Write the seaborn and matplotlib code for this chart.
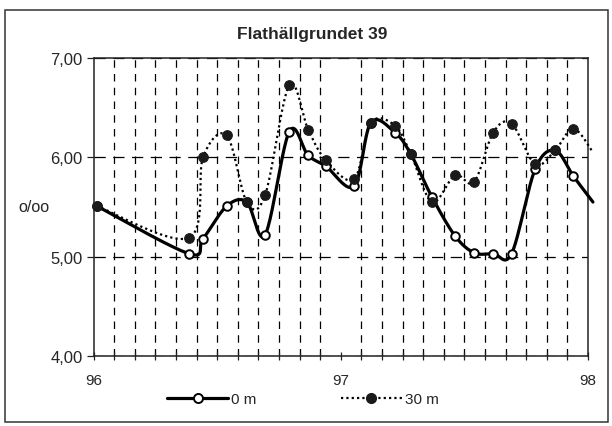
import numpy as np
import pandas as pd
import seaborn as sns
import matplotlib
matplotlib.use("Agg")
import matplotlib.pyplot as plt
from matplotlib.lines import Line2D
from matplotlib.patches import Rectangle
from matplotlib.ticker import FixedLocator, FuncFormatter

# Sampling dates (decimal year, 96 = 1996) and salinity (o/oo) at 0 m and 30 m
dates = [96.013, 96.386, 96.443, 96.539, 96.620, 96.694, 96.792, 96.868,
         96.940, 97.054, 97.122, 97.219, 97.284, 97.369, 97.462, 97.539,
         97.617, 97.691, 97.786, 97.867, 97.941, 98.020]
salt_0m = [5.51, 5.03, 5.18, 5.51, 5.55, 5.22, 6.26, 6.02,
           5.91, 5.71, 6.35, 6.25, 6.03, 5.60, 5.21, 5.04,
           5.03, 5.03, 5.88, 6.07, 5.81, 5.55]
salt_30m = [5.51, 5.19, 6.00, 6.22, 5.55, 5.62, 6.73, 6.28,
            5.97, 5.78, 6.35, 6.32, 6.03, 5.55, 5.82, 5.75,
            6.25, 6.34, 5.93, 6.07, 6.29, 6.05]
year_ticks = [96, 97, 98]
y_ticks = [4.0, 5.0, 6.0, 7.0]
series_labels = ["0 m", "30 m"]
title = "Flathällgrundet 39"
unit_label = "o/oo"

df = pd.DataFrame({"date": dates, "s0": salt_0m, "s30": salt_30m})


def smooth_curve(x, y, n=24):
    """Smoothed line through the points (cubic Bezier, 1/6 tangent rule)."""
    p = np.column_stack([x, y]).astype(float)
    ext = np.vstack([p[0], p, p[-1]])
    t = np.linspace(0, 1, n)[:, None]
    segs = []
    for i in range(len(p) - 1):
        p0, p1, p2, p3 = ext[i], ext[i + 1], ext[i + 2], ext[i + 3]
        c1 = p1 + (p2 - p0) / 6.0
        c2 = p2 - (p3 - p1) / 6.0
        b = ((1 - t) ** 3) * p1 + 3 * ((1 - t) ** 2) * t * c1 \
            + 3 * (1 - t) * t ** 2 * c2 + t ** 3 * p2
        segs.append(b if i == 0 else b[1:])
    out = np.vstack(segs)
    return out[:, 0], out[:, 1]


sns.set_theme(style="white")
plt.rcParams["font.family"] = ["Liberation Sans", "DejaVu Sans"]

fig = plt.figure(figsize=(6.12, 4.27), dpi=100)
fig.patch.set_facecolor("white")
ax = fig.add_axes([93.5 / 612, 1 - 357 / 427, (588 - 93.5) / 612, (357 - 59) / 427])
ax.set_facecolor("white")

# grid: dashed monthly verticals, dashed horizontals at whole units
months = [96 + k / 12 for k in range(25)]
ax.xaxis.set_major_locator(FixedLocator(year_ticks))
ax.xaxis.set_minor_locator(FixedLocator(months))
ax.yaxis.set_major_locator(FixedLocator(y_ticks))
ax.grid(axis="x", which="minor", color="black", lw=0.9, linestyle=(0, (6, 5)))
ax.grid(axis="y", which="major", color="black", lw=0.9, linestyle=(0, (9, 6)))
ax.grid(axis="x", which="major", visible=False)
ax.set_axisbelow(True)

in_range = df[df["date"] <= 98]

# 0 m: solid smoothed line with open circles
x0, y0 = smooth_curve(df["date"], df["s0"])
sns.lineplot(x=x0, y=y0, sort=False, estimator=None, ax=ax, color="black",
             lw=2.3, clip_on=False, zorder=3)
sns.scatterplot(data=in_range, x="date", y="s0", ax=ax, marker="o", s=38,
                color="white", edgecolor="black", linewidth=1.4,
                clip_on=False, zorder=4)

# 30 m: dotted smoothed line with filled circles
x30, y30 = smooth_curve(df["date"], df["s30"])
sns.lineplot(x=x30, y=y30, sort=False, estimator=None, ax=ax, color="black",
             lw=1.6, linestyle=(0, (1, 1.4)), clip_on=False, zorder=5)
sns.scatterplot(data=in_range, x="date", y="s30", ax=ax, marker="o", s=48,
                color="#1a1a1a", edgecolor="#1a1a1a", linewidth=0.8,
                clip_on=False, zorder=6)

ax.set_xlim(96, 98)
ax.set_ylim(4, 7)
ax.set_xlabel("")
ax.set_ylabel("")
ax.xaxis.set_major_formatter(FuncFormatter(lambda v, p: f"{v:.0f}"))
ax.yaxis.set_major_formatter(FuncFormatter(lambda v, p: f"{v:.2f}".replace(".", ",")))

for s in ax.spines.values():
    s.set_color("#222222")
    s.set_linewidth(1.1)

ax.tick_params(axis="x", which="both", direction="inout", length=6, width=0.9,
               color="#222222", bottom=True, labelsize=11, pad=9)
ax.tick_params(axis="y", which="major", direction="out", length=5, width=0.9,
               color="#222222", left=True, labelsize=12, pad=3)

fig.text(312 / 612, 1 - 34 / 427, title, ha="center", va="center",
         fontsize=12.5, fontweight="bold")
fig.text(34 / 612, 1 - 208 / 427, unit_label, ha="center", va="center", fontsize=11.5)

handles = [
    Line2D([0], [0], color="black", lw=2.3, marker="o", markersize=6.5,
           markerfacecolor="white", markeredgecolor="black", markeredgewidth=1.4),
    Line2D([0], [0], color="black", lw=1.6, linestyle=(0, (1, 1.4)), marker="o",
           markersize=7, markerfacecolor="#1a1a1a", markeredgecolor="#1a1a1a"),
]
fig.legend(handles, series_labels, loc="center", bbox_to_anchor=(303 / 612, 1 - 400 / 427),
           ncol=2, frameon=False, handlelength=4.0, handletextpad=0.2,
           columnspacing=5.5, fontsize=11, numpoints=1)

# outer frame around the whole chart
fig.patches.append(Rectangle((5 / 612, 1 - 423 / 427), 603 / 612, 412 / 427,
                             transform=fig.transFigure, fill=False,
                             edgecolor="#333333", lw=1.1))

fig.savefig("out.png", dpi=100, facecolor="white")
